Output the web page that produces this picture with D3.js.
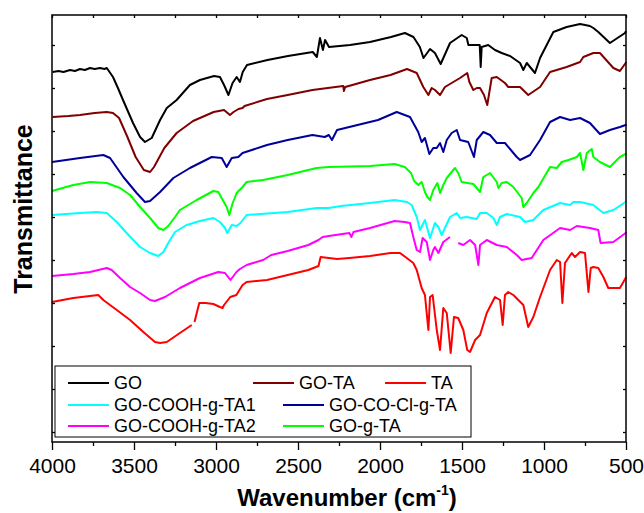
<!DOCTYPE html>
<html>
<head>
<meta charset="utf-8">
<script src="https://cdn.jsdelivr.net/npm/d3@7"></script>
<style>
  html, body { margin: 0; padding: 0; background: #fff; }
  svg { display: block; font-family: "Liberation Sans", Arial, sans-serif; }
</style>
</head>
<body>
<div id="chart"></div>
<script>
// FTIR spectra, [wavenumber cm-1, transmittance a.u.] (curves are offset)
const goData = [[3996,370],[3960,371],[3930,370],[3890,372],[3860,371],[3829,373],[3800,372],[3768,374],[3740,373],[3707,374],[3680,373],[3666,374],[3628,365],[3598,354],[3567,342],[3506,319],[3463,305],[3433,300],[3392,304],[3341,322],[3300,334],[3240,342],[3159,357],[3098,362],[3012,366],[2976,365],[2951,357],[2924,347],[2899,359],[2874,365],[2854,360],[2837,370],[2811,377],[2686,382],[2561,386],[2410,390],[2385,385],[2366,404],[2348,392],[2335,402],[2311,395],[2183,397],[2061,400],[1933,405],[1848,409],[1796,405],[1757,395],[1735,384],[1695,393],[1665,389],[1630,378],[1573,399],[1502,407],[1471,404],[1461,397],[1392,397],[1386,375],[1380,395],[1340,397],[1299,392],[1258,389],[1207,386],[1146,379],[1126,372],[1105,379],[1055,369],[1024,384],[943,410],[862,415],[780,418],[720,416],[699,414],[669,410],[598,399],[506,409],[500,411]];

const goTaData = [[3996,325],[3900,326],[3829,327],[3740,329],[3666,330],[3628,329],[3591,324],[3540,305],[3490,285],[3440,272],[3402,270],[3378,275],[3315,294],[3240,309],[3140,321],[3014,330],[2951,332],[2915,327],[2893,330],[2863,333],[2838,334],[2826,336],[2689,343],[2563,347],[2412,352],[2224,356],[2220,351],[2212,355],[2061,362],[1936,367],[1835,373],[1776,369],[1736,355],[1705,347],[1685,354],[1665,352],[1634,347],[1604,355],[1512,364],[1468,369],[1455,360],[1431,352],[1410,354],[1390,354],[1366,347],[1346,337],[1319,364],[1288,365],[1238,359],[1218,355],[1146,355],[1096,347],[1024,355],[963,370],[862,375],[780,380],[760,385],[699,389],[659,389],[577,374],[537,371],[502,379],[500,380]];

const taData = [[4000,140],[3870,144],[3718,147],[3687,142],[3605,132],[3524,122],[3443,110],[3372,100],[3341,99],[3300,100],[3220,109],[3148,117],null,[3131,120],[3102,139],[3064,139],[3016,138],[2976,135],[2960,134],[2951,137],[2913,145],[2876,147],[2838,157],[2813,160],[2689,162],[2563,167],[2437,172],[2375,176],[2362,185],[2312,184],[2262,183],[2187,184],[2061,186],[1936,189],[1878,189],[1837,184],[1797,179],[1776,172],[1746,154],[1726,147],[1705,112],[1695,145],[1679,147],[1654,112],[1634,92],[1614,134],[1593,129],[1569,89],[1549,125],[1523,124],[1492,112],[1468,92],[1451,90],[1420,102],[1390,107],[1349,129],[1299,145],[1268,142],[1252,117],[1238,147],[1218,150],[1187,147],[1126,137],[1096,115],[1065,125],[1024,145],[963,172],[922,182],[902,180],[888,139],[872,179],[831,189],[811,185],[780,190],[750,189],[729,150],[715,174],[699,175],[669,174],[638,165],[608,154],[537,154],[502,164],[500,165]];

const cooh1Data = [[4000,227],[3829,229],[3727,230],[3666,229],[3605,220],[3545,209],[3463,195],[3402,189],[3352,186],[3321,190],[3291,199],[3250,210],[3179,217],[3098,221],[3016,224],[2976,220],[2945,214],[2931,209],[2904,217],[2874,216],[2851,219],[2813,227],[2563,230],[2387,234],[2312,234],[2237,236],[2061,239],[1911,242],[1835,240],[1807,237],[1776,225],[1756,212],[1726,222],[1695,204],[1665,219],[1644,215],[1624,207],[1573,225],[1532,229],[1512,224],[1471,225],[1410,223],[1390,229],[1349,229],[1309,224],[1288,217],[1268,225],[1227,228],[1146,225],[1116,220],[1065,222],[1004,232],[902,239],[841,237],[821,240],[780,240],[699,237],[638,229],[577,232],[502,240],[500,241]];

const coclData = [[4000,280],[3829,284],[3687,287],[3646,284],[3565,265],[3484,249],[3433,240],[3402,241],[3341,250],[3260,264],[3159,274],[3026,285],[2965,284],[2935,275],[2904,284],[2864,285],[2838,289],[2689,297],[2563,302],[2412,307],[2337,305],[2312,307],[2293,302],[2262,312],[2137,317],[2012,322],[1898,330],[1817,325],[1767,310],[1746,300],[1726,304],[1699,288],[1675,294],[1654,294],[1634,299],[1614,290],[1593,302],[1563,309],[1532,312],[1512,302],[1462,300],[1427,285],[1410,302],[1370,310],[1329,307],[1288,299],[1238,299],[1166,285],[1146,282],[1085,287],[1024,302],[963,320],[902,325],[841,322],[780,324],[720,319],[659,308],[598,312],[537,315],[502,317],[500,318]];

const cooh2Data = [[4000,166],[3870,168],[3768,170],[3666,174],[3636,172],[3585,164],[3524,155],[3463,149],[3402,142],[3372,141],[3311,145],[3220,154],[3098,164],[2986,170],[2945,169],[2912,162],[2875,170],[2854,173],[2813,177],[2713,182],[2663,187],[2563,191],[2437,197],[2375,202],[2350,205],[2312,206],[2187,209],[2174,205],[2162,210],[2061,214],[1911,221],[1849,220],[1817,219],[1797,205],[1776,192],[1756,190],[1740,204],[1715,200],[1695,182],[1675,192],[1665,195],[1644,189],[1614,200],[1573,205],null,[1523,199],[1492,197],[1451,202],[1420,197],[1400,177],[1390,197],[1349,202],[1288,197],[1227,195],[1166,187],[1136,182],[1075,184],[1004,202],[902,214],[841,212],[800,216],[720,214],[669,212],[655,199],[577,200],[502,209],[500,210]];

const gTaData = [[4000,251],[3870,257],[3768,260],[3666,259],[3585,254],[3524,247],[3463,235],[3402,224],[3352,214],[3321,212],[3291,216],[3250,225],[3220,232],[3118,242],[3016,251],[2986,250],[2959,242],[2935,235],[2919,227],[2898,239],[2874,249],[2838,255],[2813,260],[2713,262],[2563,267],[2387,274],[2312,275],[2061,276],[1911,278],[1849,275],[1811,269],[1792,261],[1766,257],[1746,260],[1726,250],[1711,245],[1695,242],[1675,252],[1650,259],[1634,249],[1614,257],[1593,264],[1543,274],[1523,269],[1502,260],[1431,258],[1390,250],[1370,265],[1329,269],[1288,260],[1278,254],[1258,259],[1227,260],[1187,255],[1136,244],[1126,235],[1105,239],[1065,249],[1034,255],[963,275],[922,274],[892,280],[851,282],[800,285],[780,289],[760,272],[739,289],[709,293],[699,285],[659,280],[598,275],[537,285],[502,288],[500,289]];

const seriesNames = ['GO', 'GO-TA', 'TA', 'GO-COOH-g-TA1', 'GO-CO-Cl-g-TA', 'GO-COOH-g-TA2', 'GO-g-TA'];
const seriesData = [goData, goTaData, taData, cooh1Data, coclData, cooh2Data, gTaData];
const seriesColors = ['#000000', '#800000', '#ff0000', '#00ffff', '#000099', '#ff00ff', '#00ff00'];

const xMajorTicks = [4000, 3500, 3000, 2500, 2000, 1500, 1000, 500];
const xMinorTicks = [3750, 3250, 2750, 2250, 1750, 1250, 750];
const yTicks = d3.range(10, 400, 43);

const W = 644, H = 513;
const plot = { left: 52, right: 626, top: 15, bottom: 442 };

const svg = d3.select('#chart').append('svg')
  .attr('width', W)
  .attr('height', H);

const x = d3.scaleLinear().domain([4000, 500]).range([plot.left, plot.right]);
const y = d3.scaleLinear().domain([0, 427]).range([plot.bottom, plot.top]);

// curves
const line = d3.line()
  .defined(d => d !== null)
  .x(d => x(d[0]))
  .y(d => y(d[1]));

svg.append('g')
  .selectAll('path')
  .data(seriesData)
  .join('path')
  .attr('fill', 'none')
  .attr('stroke', (d, i) => seriesColors[i])
  .attr('stroke-width', 2)
  .attr('stroke-linejoin', 'round')
  .attr('d', line);

// axes
const bottomAxis = svg.append('g')
  .attr('transform', `translate(0,${plot.bottom})`)
  .call(d3.axisBottom(x).tickValues(xMajorTicks).tickSize(8).tickPadding(8).tickFormat(d3.format('d')));
bottomAxis.selectAll('text').attr('font-size', 21).attr('fill', '#000');

svg.append('g')
  .attr('transform', `translate(0,${plot.bottom})`)
  .call(d3.axisBottom(x).tickValues(xMinorTicks).tickSize(4).tickFormat(''));

svg.append('g')
  .attr('transform', `translate(0,${plot.top})`)
  .call(d3.axisTop(x).tickValues(xMajorTicks.concat(xMinorTicks)).tickSize(-3).tickFormat(''));

svg.append('g')
  .attr('transform', `translate(${plot.left},0)`)
  .call(d3.axisLeft(y).tickValues(yTicks).tickSize(-3).tickFormat(''));

svg.append('g')
  .attr('transform', `translate(${plot.right},0)`)
  .call(d3.axisRight(y).tickValues(yTicks).tickSize(-3).tickFormat(''));

svg.selectAll('.domain').remove();
svg.selectAll('.tick line').attr('stroke', '#000').attr('stroke-width', 1.3);

svg.append('rect')
  .attr('x', plot.left)
  .attr('y', plot.top)
  .attr('width', plot.right - plot.left)
  .attr('height', plot.bottom - plot.top)
  .attr('fill', 'none')
  .attr('stroke', '#000')
  .attr('stroke-width', 1.5);

// axis titles
const xTitle = svg.append('text')
  .attr('x', 347)
  .attr('y', 506)
  .attr('text-anchor', 'middle')
  .attr('font-size', 24)
  .attr('font-weight', 'bold');
xTitle.append('tspan').text('Wavenumber (cm');
xTitle.append('tspan').attr('font-size', 14).attr('dy', -11).text('-1');
xTitle.append('tspan').attr('dy', 11).text(')');

svg.append('text')
  .attr('transform', 'translate(32,209) rotate(-90)')
  .attr('text-anchor', 'middle')
  .attr('font-size', 25)
  .attr('font-weight', 'bold')
  .text('Transmittance');

// legend
const legendPos = [[68, 383], [253, 383], [385, 383], [68, 405], [283, 405], [68, 426], [283, 426]];

svg.append('rect')
  .attr('x', 55)
  .attr('y', 366)
  .attr('width', 416)
  .attr('height', 71)
  .attr('fill', '#fff')
  .attr('stroke', '#000')
  .attr('stroke-width', 1);

const legend = svg.append('g')
  .selectAll('g')
  .data(seriesNames)
  .join('g')
  .attr('transform', (d, i) => `translate(${legendPos[i][0]},${legendPos[i][1]})`);

legend.append('line')
  .attr('x1', 0).attr('x2', 41)
  .attr('stroke', (d, i) => seriesColors[i])
  .attr('stroke-width', 2);

legend.append('text')
  .attr('x', 46)
  .attr('dy', '0.36em')
  .attr('font-size', 18)
  .text(d => d);
</script>
</body>
</html>
